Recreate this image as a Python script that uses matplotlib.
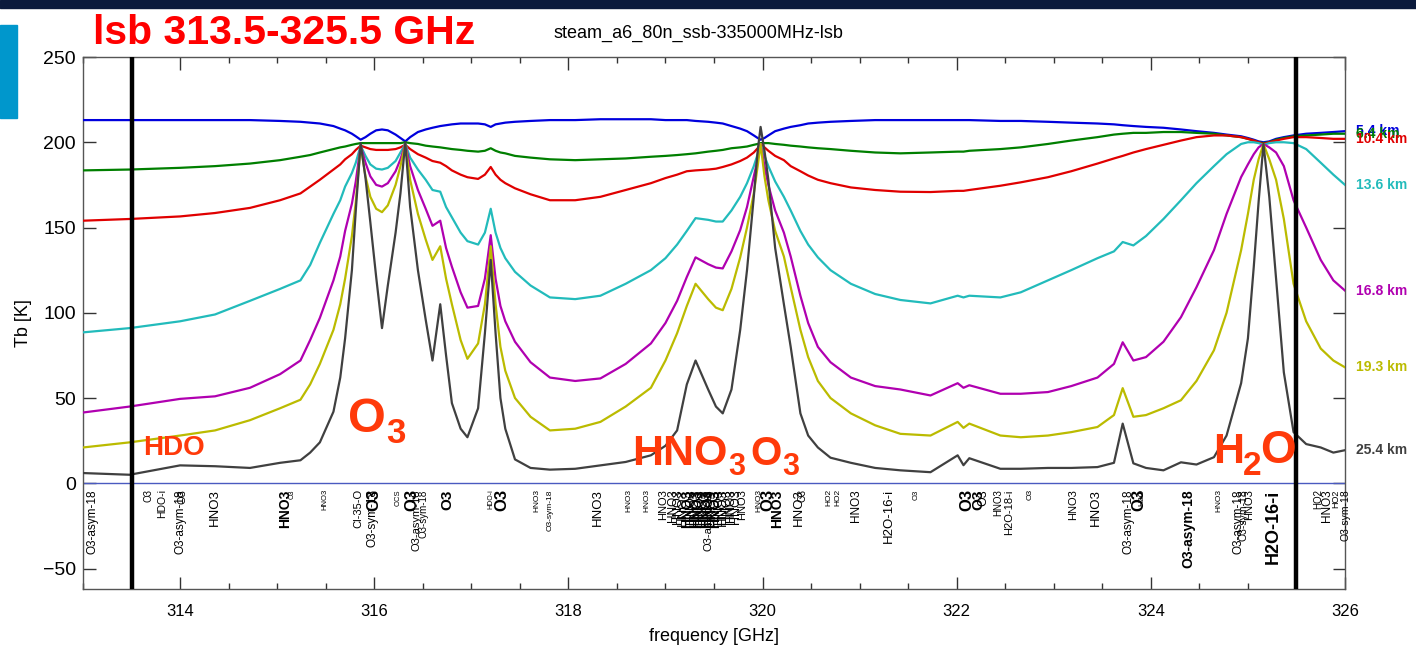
import numpy as np
import matplotlib.pyplot as plt
from matplotlib.patches import Rectangle
from matplotlib.ticker import MultipleLocator

plt.rcParams['font.family'] = ['Liberation Sans', 'DejaVu Sans']

# frequency grid [GHz]
freq = [313.00, 313.48, 314.00, 314.36, 314.72, 315.03, 315.24, 315.34, 315.44, 315.58,
        315.65, 315.70, 315.77, 315.81, 315.86, 315.91, 315.96, 316.02, 316.08, 316.14,
        316.22, 316.27, 316.32, 316.37, 316.45, 316.53, 316.60, 316.68, 316.74, 316.80,
        316.89, 316.96, 317.07, 317.14, 317.20, 317.25, 317.30, 317.35, 317.45, 317.61,
        317.81, 318.07, 318.33, 318.59, 318.85, 319.00, 319.12, 319.22, 319.31, 319.44,
        319.52, 319.59, 319.68, 319.77, 319.84, 319.91, 319.95, 319.98, 320.02, 320.06,
        320.13, 320.22, 320.29, 320.39, 320.47, 320.57, 320.70, 320.91, 321.16, 321.42,
        321.73, 322.01, 322.07, 322.13, 322.45, 322.66, 322.94, 323.18, 323.45, 323.62,
        323.71, 323.82, 323.95, 324.13, 324.31, 324.47, 324.65, 324.78, 324.93, 325.00,
        325.06, 325.11, 325.16, 325.22, 325.29, 325.37, 325.47, 325.60, 325.75, 325.88,
        326.00]

# brightness temperature [K] per tangent altitude
tb_05 = [213, 213, 213, 213, 213, 212.5, 212, 211.5, 211, 209.5,
         208, 207, 205, 203.5, 201.5, 203, 205, 207, 207.5, 207,
         204.5, 202.5, 200.5, 203, 206, 207.5, 208.5, 209.5, 210, 210.5,
         211, 211, 211, 210.5, 209, 210.5, 211, 211.5, 212, 212.5,
         213, 213, 213.5, 213.5, 213.5, 213, 213, 213, 212.5, 212,
         211.5, 211, 209.5, 208, 206.5, 204, 202.5, 201.5, 202.5, 204,
         206.5, 208, 209, 210, 211, 211.5, 212, 212.5, 213, 213,
         213, 213, 213, 213, 212.5, 212.5, 212, 211.5, 211, 210.5,
         210, 209.5, 209, 208.5, 207.5, 206.5, 205.5, 204.5, 203.5, 202.5,
         201.5, 200.5, 200, 200.5, 202, 203, 204, 205, 205.5, 206,
         206.5]
tb_06 = [183.5, 184, 185, 186, 187.5, 189.5, 191.5, 192.5, 194, 196,
         197, 197.5, 198.5, 199, 199.5, 199.5, 199.5, 199.5, 199.5, 199.5,
         199.5, 199.5, 200, 199.5, 199, 198, 197.5, 197, 196.5, 196,
         195.5, 195, 194.5, 195, 196.5, 195, 194, 193.5, 192, 191,
         190, 189.5, 190, 190.5, 191.5, 192, 192.5, 193, 193.5, 194.5,
         195, 195.5, 196.5, 197, 197.5, 198.5, 199, 199.5, 199.5, 199.5,
         199, 198.5, 198, 197.5, 197, 196.5, 196, 195, 194, 193.5,
         194, 194.5, 194.5, 195, 196, 197, 199, 201, 203, 204.5,
         205, 205.5, 205.5, 206, 206, 205.5, 205, 204, 203, 202,
         201, 200, 199.5, 200, 201.5, 202.5, 203.5, 204, 204.5, 205,
         205]
tb_10 = [154, 155, 156.5, 158.5, 161.5, 166, 170, 174, 178, 184,
         187, 190, 193, 195.5, 198, 197, 196, 195.5, 195.5, 195.5,
         196, 197, 198.5, 196, 193, 191, 189, 188, 186, 183.5,
         181, 179.5, 178.5, 181, 185.5, 181, 178, 176, 173, 169.5,
         166, 166, 168, 172, 176, 179, 181, 183, 183.5, 184,
         184.5, 185.5, 187, 189, 191, 194, 196.5, 199, 197, 195,
         192, 189.5, 186, 183, 180.5, 178, 176, 173.5, 172, 171,
         170.8, 171.5, 171.5, 172, 174.5, 176.5, 179.5, 183, 187.5, 190.5,
         192, 194, 196, 198.5, 201, 203, 204, 204, 203, 202,
         201, 200, 199, 200, 201, 202, 203, 203, 202.5, 202,
         202]
tb_13 = [88.5, 91, 95, 99, 107, 114, 119, 128, 141, 158,
         166, 174, 182, 188, 198, 192, 187, 184.5, 184, 185,
         189, 194, 199, 191, 184, 178, 172, 171, 162, 156,
         147, 142, 140, 147, 161, 147, 138, 132, 124, 116,
         109, 108, 110, 117, 125, 132, 140, 148, 155.5, 154.5,
         153.5, 153.5, 160, 168, 176, 186, 193, 199, 192, 186,
         177, 168, 160, 148, 140, 132.5, 125, 117, 111, 107.5,
         105.5, 110, 109, 110, 109, 112, 119, 125, 132, 136,
         141.5, 139.5, 145, 155, 166, 176, 186, 193, 199, 200,
         200, 199.5, 198.5, 199.5, 200, 200, 199.5, 196, 188, 181,
         175]
tb_16 = [41.5, 45, 49.5, 51, 56, 64, 72, 84, 97, 119,
         133, 148, 164, 177, 198, 188, 180, 175, 174, 176,
         183, 190, 199, 186, 172, 161, 151, 154, 138, 127,
         112, 103, 104, 120, 145.5, 120, 104, 95, 83, 71,
         62, 60, 61.5, 70, 82, 94, 107, 121, 132.5, 128.5,
         126.5, 126, 136, 148.5, 162, 180, 190, 199, 186, 175,
         160, 147, 133, 110, 94, 80, 71, 62, 57, 55,
         51.5, 58.7, 56, 57.5, 52.5, 52.5, 53.5, 57, 62, 70,
         82.7, 72, 74, 83, 97.4, 115, 136.7, 158, 179.6, 187,
         193, 197, 199, 197, 194, 186, 166, 150, 131, 119,
         113]
tb_19 = [21, 24, 28, 31, 37, 44, 49, 58, 70, 90,
         105, 120, 145, 165, 198, 180, 168, 161, 159, 163,
         175, 186, 199, 178, 158, 143, 131, 139, 120, 105,
         84, 73, 82, 105, 139, 105, 80, 66, 50, 39,
         31, 32, 36, 45, 56, 72, 88, 104, 117, 108,
         103, 101.5, 114, 132.5, 150, 170, 186, 199, 180, 166,
         148, 133, 115, 90, 74, 60, 50, 41, 34, 29,
         28, 36, 32.5, 35, 28, 27, 28, 30, 33, 40,
         55.8, 39, 40, 44, 48.7, 60, 78, 100, 136.7, 158,
         178, 190, 199, 190, 178, 155, 117, 95, 79, 72,
         68]
tb_25 = [6, 5, 10.5, 10, 9, 12, 13.5, 18, 24, 42,
         62, 85, 125, 160, 199.5, 179, 153, 121, 91, 116,
         147, 170, 200, 162, 125, 96, 72, 105, 75, 47,
         32, 27, 44, 88, 131, 88, 50, 32, 14, 9,
         8, 8.5, 10.5, 12.5, 16.4, 22, 31, 58, 72, 55,
         45, 41, 55, 90, 125, 168, 195, 209, 195, 178,
         138, 105, 80, 41, 28, 21, 15, 12, 9, 7.6,
         6.5, 16.4, 10.6, 14.7, 8.5, 8.5, 9, 9, 9.5, 12,
         35, 11.7, 9, 7.6, 12.3, 11, 15.3, 28, 58.7, 85,
         126.8, 165, 199, 168, 120, 65, 30, 23, 21, 18,
         19.4]

altitudes = ['5.4 km', '6.4 km', '10.4 km', '13.6 km', '16.8 km', '19.3 km', '25.4 km']
spectra = [tb_05, tb_06, tb_10, tb_13, tb_16, tb_19, tb_25]
colors = ['#0000dd', '#007f00', '#e00000', '#22bbbb', '#b000b0', '#bbbb00', '#404040']

# catalogue lines marked under the spectrum
line_freq = [313.10, 313.67, 313.82, 314.00, 314.03, 314.36, 315.08, 315.15, 315.49,
             315.84, 315.98, 316.00, 316.25, 316.39, 316.44, 316.51, 316.75, 317.20,
             317.32, 317.68, 317.81, 318.30, 318.62, 318.81, 318.98,
             319.08, 319.13, 319.18, 319.22, 319.26, 319.30, 319.33, 319.36, 319.39,
             319.42, 319.45, 319.48, 319.51, 319.55, 319.59, 319.63, 319.68, 319.73,
             319.79, 319.44,
             319.96, 320.05, 320.15, 320.37, 320.41, 320.68, 320.78, 320.96, 321.30,
             321.58, 322.11, 322.22, 322.28, 322.43, 322.54, 322.76, 323.20, 323.43,
             323.77, 323.88, 323.91, 324.39, 324.70, 324.90, 324.95, 325.01, 325.26,
             325.72, 325.81, 325.90, 326.00]
line_name = ['O3-asym-18', 'O3', 'HDO-i', 'O3-asym-18', 'O3', 'HNO3', 'HNO3', 'O3', 'HNO3',
             'Cl-35-O', 'O3-sym-18', 'O3', 'OCS', 'O3', 'O3-asym-18', 'O3-sym-18', 'O3', 'HDO-i',
             'O3', 'HNO3', 'O3-sym-18', 'HNO3', 'HNO3', 'HNO3', 'HNO3',
             'HNO3', 'HNO3', 'HNO3', 'HNO3', 'HNO3', 'HNO3', 'HNO3', 'HNO3', 'HNO3',
             'HNO3', 'HNO3', 'HNO3', 'HNO3', 'HNO3', 'HNO3', 'HNO3', 'HNO3', 'HNO3',
             'HNO3', 'O3-asym-18',
             'HNO3', 'O3', 'HNO3', 'HNO3', 'O3', 'HO2', 'HO2', 'HNO3', 'H2O-16-i',
             'O3', 'O3', 'O3', 'O3', 'HNO3', 'H2O-18-i', 'O3', 'HNO3', 'HNO3',
             'O3-asym-18', 'O3', 'H2O', 'O3-asym-18', 'HNO3', 'O3-asym-18', 'O3-sym-18', 'HNO3', 'H2O-16-i',
             'HO2', 'HNO3', 'HO2', 'O3-sym-18']
line_fs = [8.5, 7, 7.5, 8.5, 8, 9.5, 10, 5, 5.5,
           8, 8.5, 12, 5.5, 12, 8, 7, 11, 5,
           12, 6, 6, 9.5, 6, 6, 8,
           8.5, 9, 9.5, 10, 9, 9.5, 10, 9, 9.5,
           10, 9, 9.5, 10, 9, 9.5, 9, 8.5, 9,
           8, 8,
           6, 12, 10, 9.5, 7, 6, 6, 8.5, 9.5,
           5.5, 12, 11, 9, 7, 8, 6, 8, 9.5,
           8.5, 12, 6, 10, 6, 8.5, 7.5, 8, 13,
           7, 8.5, 6.5, 7.5]

fig = plt.figure(figsize=(14.16, 6.52), dpi=100)
fig.patches.append(Rectangle((0, 1 - 8 / 652), 1, 8 / 652, transform=fig.transFigure,
                             color='#0b1a3c', zorder=0))
fig.patches.append(Rectangle((0, 1 - 118 / 652), 17 / 1416, 93 / 652, transform=fig.transFigure,
                             color='#0097cc', zorder=0))
fig.text(93 / 1416, 1 - 44 / 652, 'lsb 313.5-325.5 GHz', color='#ff0000', fontsize=29.5,
         fontweight='bold', ha='left', va='baseline')
fig.text(553 / 1416, 1 - 38 / 652, 'steam_a6_80n_ssb-335000MHz-lsb', color='black',
         fontsize=13, ha='left', va='baseline')

ax = fig.add_axes([83 / 1416, 1 - 589 / 652, 1262 / 1416, 532 / 652])

for tb, c in zip(spectra, colors):
    ax.plot(freq, tb, color=c, lw=1.6, zorder=3)

ax.axhline(0, color='#4a5ac0', lw=1, zorder=2)
for f in (313.5, 325.5):
    ax.axvline(f, color='black', lw=3.2, zorder=5)

for f, name, fs in zip(line_freq, line_name, line_fs):
    ax.text(f, -3.5, name, rotation=90, ha='center', va='top', fontsize=fs,
            fontweight='bold' if fs >= 10 else 'normal', color='black', zorder=4)

# molecule annotations (main letters + subscripts)
orange = '#ff3a0a'
ann = [(313.62, 16.4, 'HDO', 20), (315.73, 30, 'O', 35), (316.12, 23.5, '3', 25),
       (318.66, 10.6, 'HNO', 31), (319.65, 4.7, '3', 22), (319.87, 10.6, 'O', 29),
       (320.20, 4.7, '3', 22), (324.64, 11.7, 'H', 31), (324.95, 4.7, '2', 24),
       (325.13, 11.7, 'O', 33)]
for x, y, s, fs in ann:
    ax.text(x, y, s, color=orange, fontsize=fs, fontweight='bold', ha='left',
            va='baseline', zorder=6)

for tb, c, lab in zip(spectra, colors, altitudes):
    ax.annotate(lab, xy=(1.009, tb[-1]), xycoords=('axes fraction', 'data'),
                color=c, fontsize=10, fontweight='bold', ha='left', va='center',
                annotation_clip=False)

ax.set_xlim(313, 326)
ax.set_ylim(-62, 250)
ax.xaxis.set_major_locator(MultipleLocator(2))
ax.xaxis.set_minor_locator(MultipleLocator(0.5))
ax.yaxis.set_major_locator(MultipleLocator(50))
ax.tick_params(axis='both', which='major', direction='in', length=9, width=1,
               top=True, right=True, color='#333333')
ax.tick_params(axis='both', which='minor', direction='in', length=4, width=1,
               top=True, right=True, color='#333333')
ax.tick_params(axis='x', labelsize=12, pad=11)
ax.tick_params(axis='y', labelsize=14, pad=5)
for sp in ax.spines.values():
    sp.set_color('#555555')
    sp.set_linewidth(1)

ax.set_xlabel('frequency [GHz]', fontsize=13, labelpad=6)
ax.set_ylabel('Tb [K]', fontsize=13, labelpad=8)

fig.savefig('out.png', dpi=100)
